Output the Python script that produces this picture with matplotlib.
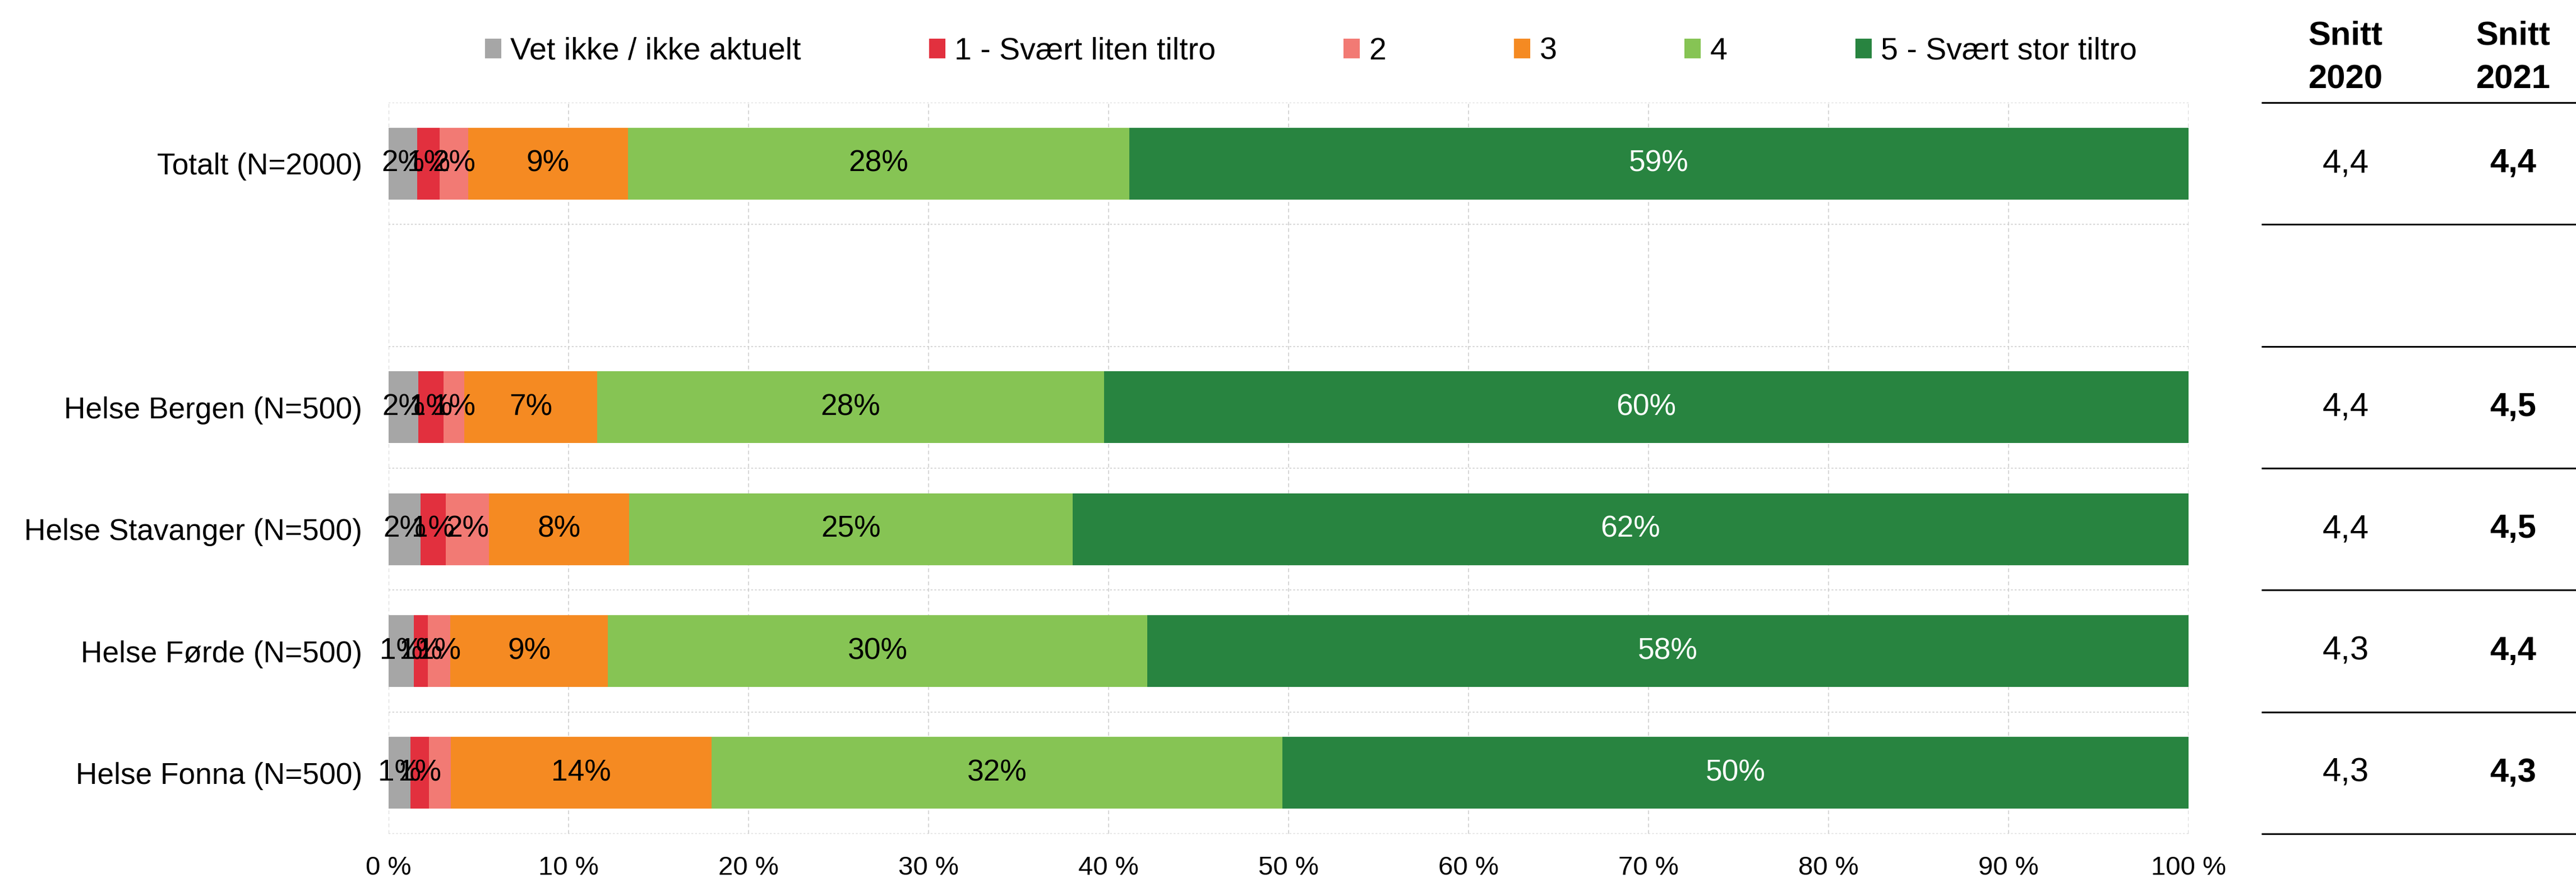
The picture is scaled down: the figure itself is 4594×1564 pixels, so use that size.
import matplotlib
matplotlib.use("Agg")
import matplotlib.pyplot as plt
import numpy as np

plt.rcParams['font.family'] = ['Liberation Sans', 'DejaVu Sans']

# ---------------- data ----------------
categories = ["Totalt (N=2000)", "Helse Bergen (N=500)", "Helse Stavanger (N=500)",
              "Helse Førde (N=500)", "Helse Fonna (N=500)"]
series_names = ["Vet ikke / ikke aktuelt", "1 - Svært liten tiltro", "2", "3", "4",
                "5 - Svært stor tiltro"]
vet_ikke = [1.59, 1.65, 1.78, 1.40, 1.21]
s1 = [1.25, 1.40, 1.40, 0.78, 1.03]
s2 = [1.58, 1.16, 2.39, 1.25, 1.22]
s3 = [8.88, 7.38, 7.81, 8.76, 14.49]
s4 = [27.85, 28.17, 24.62, 29.96, 31.70]
s5 = [58.85, 60.24, 62.00, 57.85, 50.35]
hidden_labels = [(4, 2)]  # (row, series) label not shown in the reference
snitt_2020 = [4.4, 4.4, 4.4, 4.3, 4.3]
snitt_2021 = [4.4, 4.5, 4.5, 4.4, 4.3]
xticks = [0, 10, 20, 30, 40, 50, 60, 70, 80, 90, 100]
xtick_labels = [f"{v} %" for v in xticks]

colors = ["#A6A6A6", "#E2303E", "#F27A74", "#F58A22", "#86C454", "#288440"]
label_colors = ["black", "black", "black", "black", "black", "white"]

# ---------------- layout ----------------
W, H = 4594, 1564
DPI = 200
fig = plt.figure(figsize=(W / DPI, H / DPI), dpi=DPI)

def fx(px):
    return px / W

def fy(py):
    return 1 - py / H

ax_left, ax_right, ax_top, ax_bot = 693, 3903, 183, 1487
ax = fig.add_axes([fx(ax_left), fy(ax_bot), fx(ax_right - ax_left), (ax_bot - ax_top) / H])

# row positions: Totalt at top, empty row, then regions
n_slots = len(categories) + 1
ypos = [n_slots - 1] + [n_slots - 3 - i for i in range(len(categories) - 1)]

series = [vet_ikke, s1, s2, s3, s4, s5]
left = np.zeros(len(categories))
bar_h = 0.59
for si, (vals, col) in enumerate(zip(series, colors)):
    vals = np.array(vals)
    ax.barh(ypos, vals, left=left, height=bar_h, color=col, label=series_names[si],
            edgecolor='none', zorder=3)
    for ri, (v, l) in enumerate(zip(vals, left)):
        if (ri, si) in hidden_labels:
            continue
        ax.text(l + v / 2, ypos[ri], f"{v:.0f}%", ha='center', va='center',
                color=label_colors[si], fontsize=19.2, zorder=4)
    left = left + vals

ax.set_xlim(0, 100)
ax.set_ylim(-0.5, n_slots - 0.5)
ax.set_xticks(xticks)
ax.set_xticklabels(xtick_labels, fontsize=17)
ax.set_yticks(ypos)
ax.set_yticklabels(categories, fontsize=19.2)
ax.set_yticks(np.arange(-0.5, n_slots, 1.0), minor=True)
ax.tick_params(axis='both', which='both', length=0)
ax.tick_params(axis='x', pad=14)
ax.tick_params(axis='y', pad=17)
ax.grid(axis='x', which='major', linestyle=(0, (4, 3)), color='#CFCFCF', linewidth=0.6, zorder=0)
ax.grid(axis='y', which='minor', linestyle=(0, (2, 2)), color='#CFCFCF', linewidth=0.6, zorder=0)
ax.grid(axis='y', which='major', visible=False)
for sp in ax.spines.values():
    sp.set_visible(False)

# legend
fig.legend(loc='center', bbox_to_anchor=(fx(2338), fy(92)), ncol=6, frameon=False,
           fontsize=20, handlelength=0.52, handleheight=0.58, handletextpad=0.3,
           columnspacing=4.1, borderpad=0)

# right-hand table
tab_left, tab_right = 4033, W
ax2 = fig.add_axes([fx(tab_left), fy(ax_bot), fx(tab_right - tab_left), (ax_bot - ax_top) / H])
ax2.set_xlim(tab_left, tab_right)
ax2.set_ylim(-0.5, n_slots - 0.5)
ax2.axis('off')
ax2.hlines(np.arange(-0.5, n_slots, 1.0), tab_left, tab_right, color='black', linewidth=1.1,
           clip_on=False)
col_x = [4183, 4482]
for ri, y in enumerate(ypos):
    ax2.text(col_x[0], y, f"{snitt_2020[ri]:.1f}".replace('.', ','), ha='center', va='center',
             fontsize=21.5)
    ax2.text(col_x[1], y, f"{snitt_2021[ri]:.1f}".replace('.', ','), ha='center', va='center',
             fontsize=21.5, fontweight='bold')

for cx, yr in zip(col_x, ["2020", "2021"]):
    fig.text(fx(cx), fy(80), "Snitt", ha='center', va='baseline', fontsize=21.5, fontweight='bold')
    fig.text(fx(cx), fy(157), yr, ha='center', va='baseline', fontsize=21.5, fontweight='bold')

fig.savefig("out.png", dpi=DPI)
